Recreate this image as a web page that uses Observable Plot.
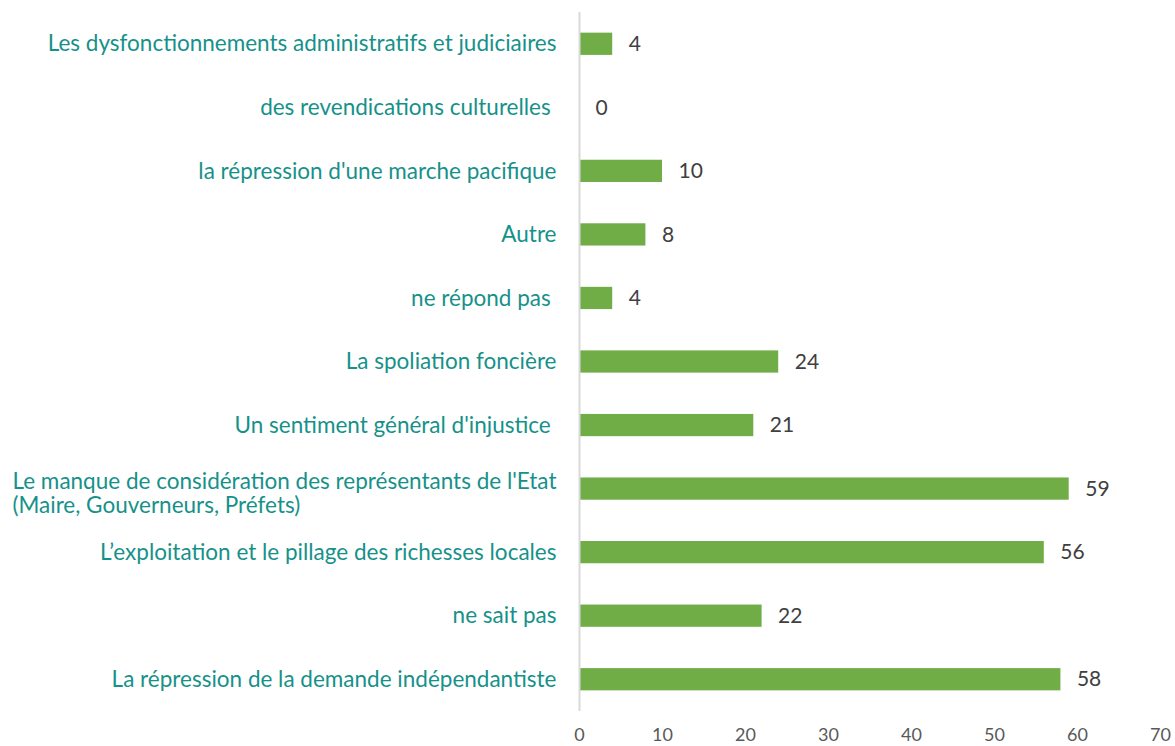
<!DOCTYPE html>
<html>
<head>
<meta charset="utf-8">
<script src="https://cdn.jsdelivr.net/npm/d3@7"></script>
<script src="https://cdn.jsdelivr.net/npm/@observablehq/plot@0.6"></script>
<style>
  html, body { margin: 0; padding: 0; background: #fff; }
  #chart svg { display: block; }
</style>
</head>
<body>
<div id="chart"></div>
<script>
const categories = [
  "Les dysfonctionnements administratifs et judiciaires",
  "des revendications culturelles\u00a0",
  "la répression d'une marche pacifique",
  "Autre",
  "ne répond pas\u00a0",
  "La spoliation foncière",
  "Un sentiment général d'injustice\u00a0",
  "Le manque de considération des représentants de l'Etat\n(Maire, Gouverneurs, Préfets)",
  "L\u2019exploitation et le pillage des richesses locales",
  "ne sait pas",
  "La répression de la demande indépendantiste"
];
const values = [4, 0, 10, 8, 4, 24, 21, 59, 56, 22, 58];
const xTicks = [0, 10, 20, 30, 40, 50, 60, 70];

const data = categories.map((c, i) => ({category: c, value: values[i]}));
const wrapped = data.filter(d => d.category.includes("\n"));
const single = data.filter(d => !d.category.includes("\n"));

const font = "Lato, 'Open Sans', sans-serif";

const chart = Plot.plot({
  width: 1175,
  height: 746,
  marginLeft: 579,
  marginRight: 15,
  marginTop: 12,
  marginBottom: 35,
  style: {fontFamily: font, fontSize: "19px", background: "#fff"},
  x: {domain: [0, 70], ticks: xTicks, label: null, axis: null},
  y: {domain: categories, label: null, axis: null, paddingInner: 0.65, paddingOuter: 0.325, round: false},
  marks: [
    Plot.barX(data, {y: "category", x: "value", fill: "#70AD47"}),
    Plot.ruleX([0], {stroke: "#D9D9D9", strokeWidth: 2}),
    Plot.axisX({ticks: xTicks, tickSize: 0, tickPadding: 17, fill: "#595959", fontSize: 18, label: null}),
    Plot.text(single, {y: "category", text: "category", frameAnchor: "left", textAnchor: "end", dx: -23, fill: "#16918A", fontSize: 22.5}),
    Plot.text(wrapped, {y: "category", text: "category", frameAnchor: "left", textAnchor: "start", dx: -567, dy: 4, fill: "#16918A", fontSize: 22.5, lineHeight: 1.08}),
    Plot.text(data, {y: "category", x: "value", text: d => String(d.value), textAnchor: "start", dx: 16, fill: "#404040", fontSize: 21})
  ]
});
document.getElementById("chart").appendChild(chart);
</script>
</body>
</html>
